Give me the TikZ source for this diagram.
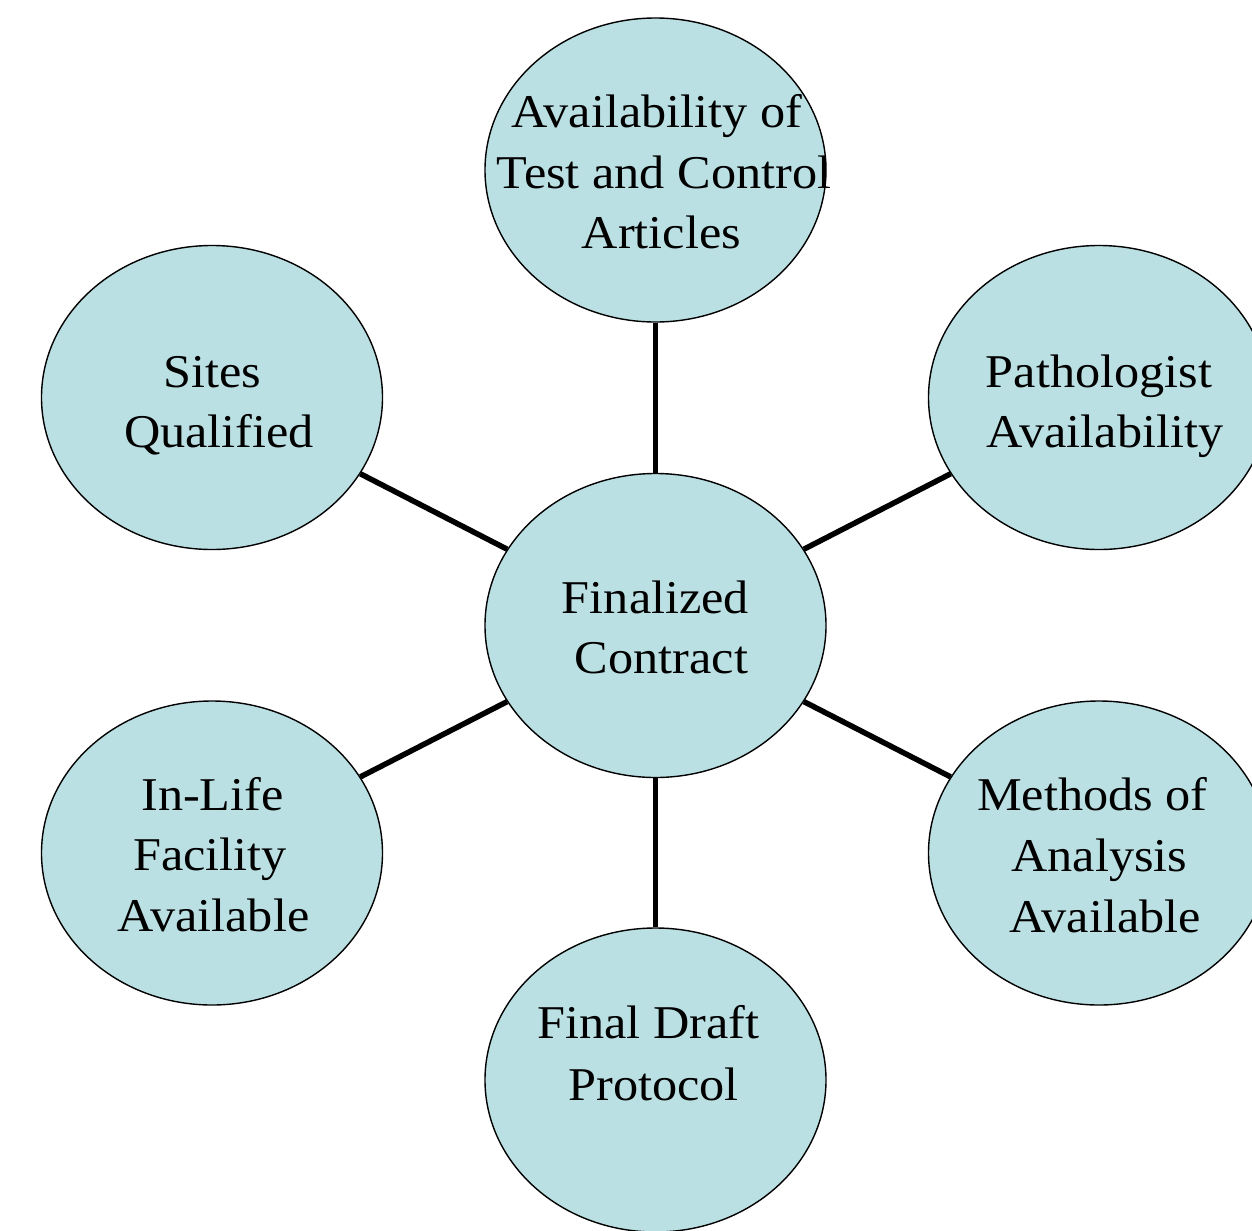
\documentclass[tikz,border=0pt]{standalone}
\usepackage{fontspec}
\setmainfont{Liberation Serif}[FakeStretch=1.07, Ligatures=NoCommon]
\usetikzlibrary{shapes.geometric}
\definecolor{bubblefill}{HTML}{BBE0E3}
\begin{document}
\begin{tikzpicture}[x=1bp,y=-1bp,
  bubble/.style={ellipse, draw=black, line width=1.4bp, fill=bubblefill,
    minimum width=341bp, minimum height=304bp, inner sep=0pt},
  spoke/.style={draw=black, line width=5.5bp},
  txt/.style={anchor=base, inner sep=0pt, font=\fontsize{47bp}{60bp}\selectfont}]
\useasboundingbox (0,0) rectangle (1252,1231);

% ellipses
\node[bubble] (hub)      at (655.5,625.5) {};
\node[bubble] (articles) at (655.5,170)   {};
\node[bubble] (sites)    at (212,397.5)   {};
\node[bubble] (patho)    at (1099,397.5)  {};
\node[bubble] (inlife)   at (212,853)     {};
\node[bubble] (methods)  at (1099,853)    {};
\node[bubble] (protocol) at (655.5,1080)  {};

% spokes from the hub
\draw[spoke] (hub) -- (articles);
\draw[spoke] (hub) -- (sites);
\draw[spoke] (hub) -- (patho);
\draw[spoke] (hub) -- (inlife);
\draw[spoke] (hub) -- (methods);
\draw[spoke] (hub) -- (protocol);

% labels, one line per node
\node[txt] (hub-a) at (655.5,613) {Finalized};
\node[txt] (hub-b) at (661.5,673) {Contract};

\node[txt] (articles-a) at (656.5,127) {Availability of};
\node[txt] (articles-b) at (664,188)   {Test and Control};
\node[txt] (articles-c) at (661.5,248) {Articles};

\node[txt] (sites-a) at (212,387) {Sites};
\node[txt] (sites-b) at (219,447) {Qualified};

\node[txt] (patho-a) at (1099,387) {Pathologist};
\node[txt] (patho-b) at (1105,447) {Availability};

\node[txt] (inlife-a) at (212.5,810) {In-Life};
\node[txt] (inlife-b) at (210,870)   {Facility};
\node[txt] (inlife-c) at (213.5,931) {Available};

\node[txt] (methods-a) at (1092.5,810) {Methods of};
\node[txt] (methods-b) at (1099.5,871) {Analysis};
\node[txt] (methods-c) at (1105,932)   {Available};

\node[txt] (protocol-a) at (648.5,1038) {Final Draft};
\node[txt] (protocol-b) at (653.5,1100) {Protocol};
\end{tikzpicture}
\end{document}
